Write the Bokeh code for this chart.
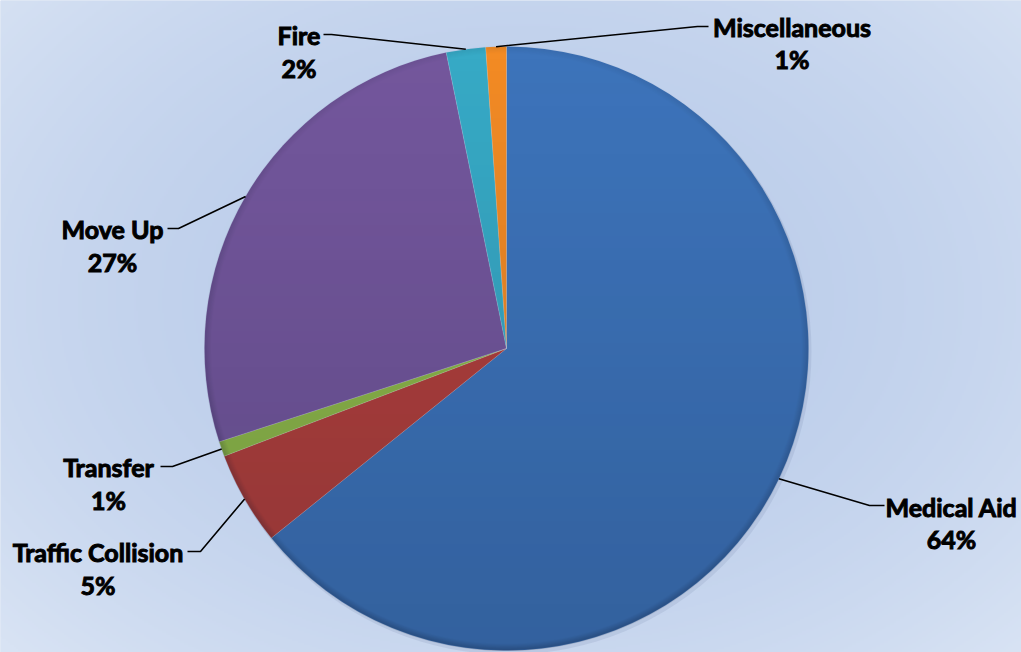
import numpy as np
from bokeh.plotting import figure
from bokeh.models import Range1d
from bokeh.embed import file_html
from bokeh.resources import INLINE
from bokeh.core.properties import value

# ---------------- data ----------------
categories = ["Medical Aid", "Traffic Collision", "Transfer", "Move Up", "Fire", "Miscellaneous"]
shares = [64.2, 5.0, 0.8, 26.8, 2.1, 1.1]
colors = ["#3d74bb", "#b33f3b", "#8fb948", "#74579d", "#37aac6", "#f38b24"]

# ---------------- layout (window pixel coords) ----------------
W, H = 1021, 652
CX, CYW, R = 506, 348, 302
# text centre x, name baseline y, pct baseline y, elbow x, line end x, line y
label_layout = {
    "Medical Aid":       (951, 506, 538, 869, 884, 505),
    "Traffic Collision": (97.5, 551, 584, 200, 187, 551),
    "Transfer":          (108, 466, 499, 172, 160, 466),
    "Move Up":           (112, 228, 261, 178, 167, 228),
    "Fire":              (298.5, 34, 67, 331, 323, 34),
    "Miscellaneous":     (791.5, 26, 58, 697, 708, 26),
}


def wy(y):
    return H - y


CY = wy(CYW)

p = figure(width=W, height=H, output_backend="svg", toolbar_location=None,
           x_range=Range1d(0, W), y_range=Range1d(0, H), min_border=0,
           tools="")
p.axis.visible = False
p.grid.visible = False
p.outline_line_color = None
p.background_fill_color = "#c6d5ee"
p.border_fill_color = "#c6d5ee"

# background radial gradient
bh, bw = 326, 511
ys = (np.arange(bh) + 0.5) * (H / bh)
xs = (np.arange(bw) + 0.5) * (W / bw)
XX, YY = np.meshgrid(xs, ys)
YYw = H - YY
d2 = ((XX - 520) / 700) ** 2 + ((YYw - 300) / 500) ** 2
t = np.clip(d2, 0, 1)
c0 = np.array([186, 204, 234], dtype=float)
c1 = np.array([216, 227, 244], dtype=float)
bg = np.zeros((bh, bw, 4), dtype=np.uint8)
for k in range(3):
    bg[..., k] = (c0[k] + (c1[k] - c0[k]) * t).astype(np.uint8)
bg[..., 3] = 255
p.image_rgba(image=[bg.view(np.uint32).reshape(bh, bw)], x=0, y=0, dw=W, dh=H)

# soft shadow
p.circle(x=[CX + 2], y=[CY - 3], radius=R + 1, fill_color="#54668a", fill_alpha=0.12, line_color=None)

# ---------------- pie ----------------
total = float(sum(shares))
cum = np.concatenate([[0.0], np.cumsum(shares)]) / total
starts = np.pi / 2 - 2 * np.pi * cum[:-1]
ends = np.pi / 2 - 2 * np.pi * cum[1:]
p.wedge(x=CX, y=CY, radius=R, start_angle=list(starts), end_angle=list(ends),
        direction="clock", fill_color=colors, line_color=None)

# shading overlay (lighter top, darker bottom, darker rim)
n = 2 * R
oy = CY - R
ox = CX - R
ii = np.arange(n) + 0.5
PX, PY = np.meshgrid(ox + ii, oy + ii)
dist = np.sqrt((PX - CX) ** 2 + (PY - CY) ** 2)
inside = np.clip(R - dist + 0.5, 0, 1)
tv = np.clip((CY + R - PY) / (2 * R), 0, 1)  # 0 at top, 1 at bottom
rim = np.clip((dist - (R - 7)) / 7, 0, 1)
alpha = (0.20 * tv + 0.22 * rim * (0.4 + 0.6 * tv)) * inside
ov = np.zeros((n, n, 4), dtype=np.uint8)
ov[..., 0] = 10
ov[..., 1] = 20
ov[..., 2] = 40
ov[..., 3] = (np.clip(alpha, 0, 1) * 255).astype(np.uint8)
p.image_rgba(image=[ov.view(np.uint32).reshape(n, n)], x=ox, y=oy, dw=n, dh=n)

# subtle separators
for a in starts:
    p.line(x=[CX, CX + R * np.cos(a)], y=[CY, CY + R * np.sin(a)],
           line_color="#ffffff", line_alpha=0.18, line_width=1)

# ---------------- labels & leader lines ----------------
mids = (starts + ends) / 2
font = value("Lato")
for cat, sh, m in zip(categories, shares, mids):
    tx, nb, pb, ex, lx, ly = label_layout[cat]
    sx, sy = CX + R * np.cos(m), CY + R * np.sin(m)
    p.line(x=[sx, ex, lx], y=[sy, wy(ly), wy(ly)], line_color="black", line_width=1.6)
    for yy, txt in ((nb, cat), (pb, f"{round(sh):d}%")):
        p.text(x=[tx], y=[wy(yy)], text=[txt], text_font=font, text_font_style="bold",
               text_font_size="25px", text_align="center", text_baseline="alphabetic",
               text_color="black", text_outline_color="black")

open("out.html", "w").write(file_html(p, INLINE))
